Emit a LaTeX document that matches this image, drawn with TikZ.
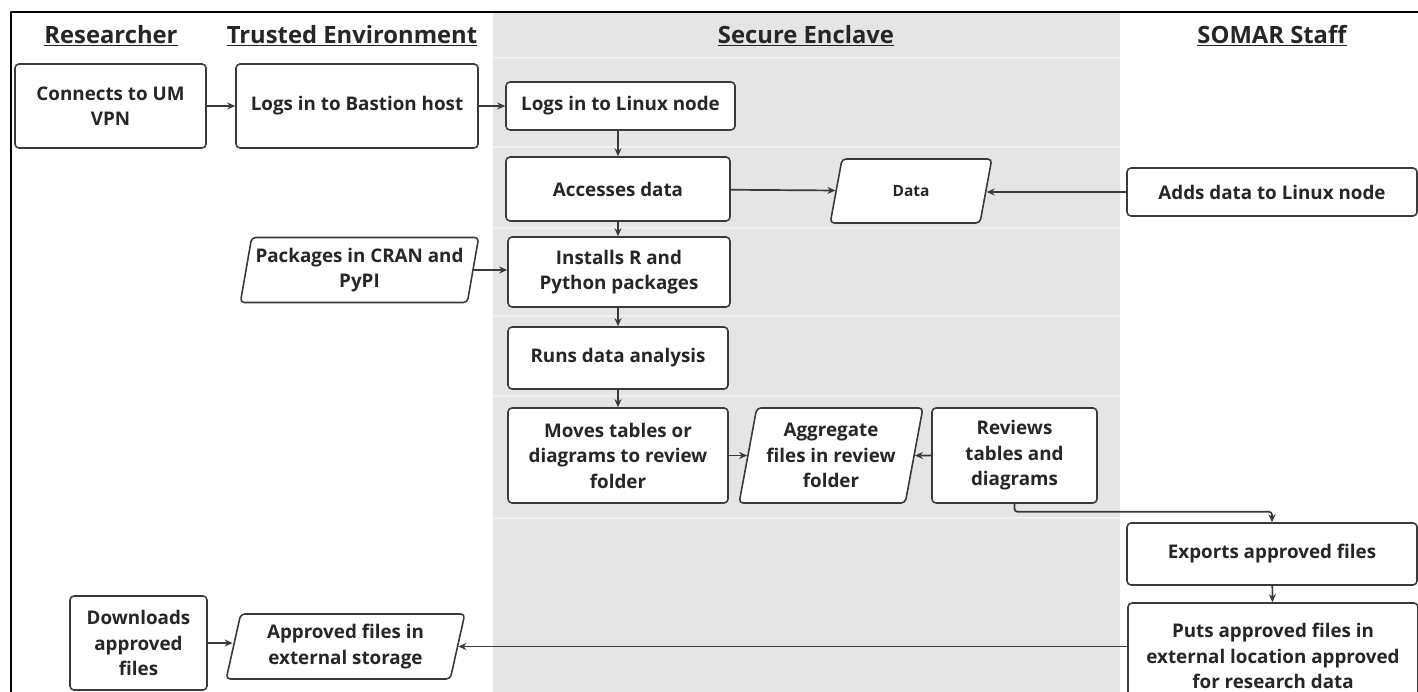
\documentclass[tikz,border=0pt]{standalone}
\usepackage{fontspec}
\setmainfont{Open Sans}
\usetikzlibrary{shapes.geometric,arrows.meta}
\definecolor{lane}{HTML}{E5E5E5}
\definecolor{laneline}{HTML}{EFEFEF}
\definecolor{ink}{HTML}{3A3A3A}
\definecolor{txt}{HTML}{262626}
\begin{document}
\begin{tikzpicture}[x=1pt,y=1pt,line join=round,>={Stealth[length=8pt,width=7pt]},
    font=\fontsize{18.8}{25.5}\selectfont\bfseries,
    box/.style={draw=ink,line width=1.6pt,rounded corners=4pt,fill=white,align=center,text=txt,inner sep=2pt},
    para/.style={box,trapezium,trapezium left angle=77,trapezium right angle=103,trapezium stretches=true},
    head/.style={font=\fontsize{23.8}{28}\selectfont\bfseries,text=txt},
    arr/.style={->,draw=ink,line width=1.7pt}]
    \useasboundingbox (0,0) rectangle (1418,-692);
    \clip (0,0) rectangle (1418,-692);
    \def\lanel{493}
    \def\laner{1120}
    \fill[lane] (\lanel,-12) rectangle (\laner,-692);
    \foreach \y in {58,147,228,316,396,518}
        \draw[laneline,line width=1.5pt] (\lanel,-\y) -- (\laner,-\y);
    \draw[line width=2.5pt] (11,-692) -- (11,-12) -- (1418,-12);
    % lane titles
    \node[head] (hres) at (111,-36) {\underline{Researcher}};
    \node[head] (htru) at (352,-36) {\underline{Trusted Environment}};
    \node[head] (hsec) at (806,-36) {\underline{Secure Enclave}};
    \node[head] (hsom) at (1272,-36) {\underline{SOMAR Staff}};
    % steps
    \node[box,minimum width=191,minimum height=84] (vpn) at (110.5,-106) {Connects to UM\\VPN};
    \node[box,minimum width=242,minimum height=84] (bast) at (357,-106) {Logs in to Bastion host};
    \node[box,minimum width=229,minimum height=48] (linux) at (620.5,-106) {Logs in to Linux node};
    \node[box,minimum width=224,minimum height=64] (acc) at (618,-189) {Accesses data};
    \node[para,minimum width=162,minimum height=64,font=\fontsize{15.5}{19}\selectfont\bfseries] (data) at (911,-191) {Data};
    \node[box,minimum width=290,minimum height=48] (adds) at (1272,-192) {Adds data to Linux node};
    \node[para,minimum width=239,minimum height=65] (pkg) at (359.5,-270) {Packages in CRAN and\\PyPI};
    \node[box,minimum width=222,minimum height=70] (inst) at (619,-272) {Installs R and\\Python packages};
    \node[box,minimum width=220,minimum height=62] (runs) at (618,-358) {Runs data analysis};
    \node[box,minimum width=220,minimum height=95] (moves) at (618,-455.5) {Moves tables or\\diagrams to review\\folder};
    \node[para,minimum width=184,minimum height=95] (aggr) at (831,-455.5) {Aggregate\\files in review\\folder};
    \node[box,minimum width=165,minimum height=95] (rev) at (1014.5,-455.5) {Reviews\\tables and\\diagrams};
    \node[box,minimum width=290,minimum height=62] (exp) at (1272,-554) {Exports approved files};
    \node[box,minimum width=290,minimum height=106] (puts) at (1273,-656) {Puts approved files in\\external location approved\\for research data};
    \node[box,minimum width=137,minimum height=94] (dl) at (138.5,-643) {Downloads\\approved\\files};
    \node[para,minimum width=239,minimum height=65] (appr) at (345.5,-646.5) {Approved files in\\external storage};
    % flow
    \draw[arr] (vpn) -- (bast);
    \draw[arr] (bast) -- (linux);
    \draw[arr] (linux.south -| acc) -- (acc);
    \draw[arr] (acc) -- (data);
    \draw[arr] (adds) -- (data.east |- adds);
    \draw[arr] (acc) -- (inst.north -| acc);
    \draw[arr] (pkg) -- (pkg -| inst.west);
    \draw[arr] (inst.south -| runs) -- (runs);
    \draw[arr] (runs) -- (moves);
    \draw[arr] (moves) -- (aggr);
    \draw[arr] (rev) -- (aggr);
    \draw[arr,rounded corners=3pt] (rev.south) -- ++(0,-8) -| (exp.north);
    \draw[arr] (exp) -- (puts);
    \draw[arr] (puts.west |- appr.east) -- (appr.east);
    \draw[arr] (dl.east) -- (dl.east -| appr.west);
\end{tikzpicture}
\end{document}
